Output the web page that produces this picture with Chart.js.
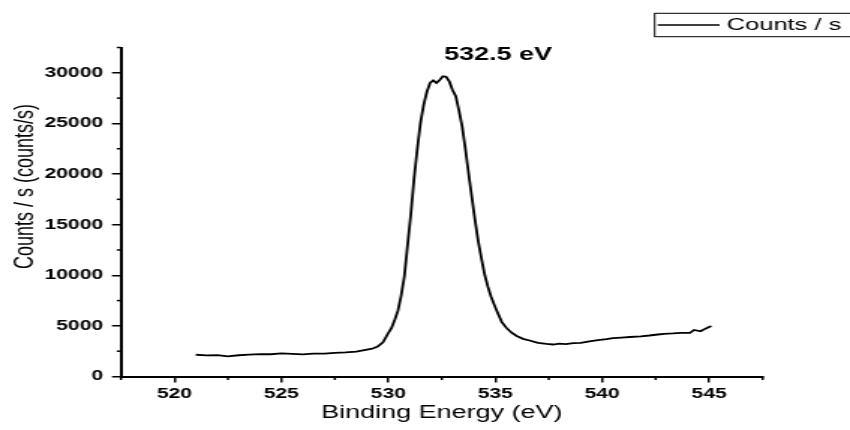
<!DOCTYPE html>
<html>
<head>
<meta charset="utf-8">
<script src="https://cdn.jsdelivr.net/npm/chart.js@4.4.1/dist/chart.umd.min.js"></script>
<style>
  html, body { margin: 0; padding: 0; background: #fff; overflow: hidden; }
  /* the reference looks stretched sideways, so draw narrow and scale it */
  #wrap { width: 567px; height: 430px; transform: scaleX(1.4991); transform-origin: 0 0; }
</style>
</head>
<body>
<div id="wrap"><canvas id="myChart" width="567" height="430"></canvas></div>
<script>
var energy = [521.0, 521.5, 522.0, 522.5, 523.0, 523.5, 524.0, 524.5, 525.0, 525.5, 526.0, 526.5, 527.0, 527.5, 528.0, 528.5,
  529.0, 529.25, 529.5, 529.75, 530.0, 530.15, 530.3, 530.45, 530.6, 530.75, 530.9, 531.05, 531.2, 531.35, 531.5, 531.65,
  531.8, 531.95, 532.1, 532.25, 532.4, 532.55, 532.7, 532.85, 533.0, 533.15, 533.3, 533.45, 533.6, 533.75, 533.9, 534.05,
  534.2, 534.35, 534.5, 534.65, 534.8, 534.95, 535.1, 535.3, 535.5, 535.75, 536.0, 536.3, 536.6, 537.0, 537.4, 537.7,
  538.0, 538.3, 538.65, 539.0, 539.4, 539.8, 540.2, 540.5, 540.9, 541.3, 541.8, 542.2, 542.6, 542.9, 543.3, 543.7,
  544.1, 544.3, 544.6, 544.85, 545.1];
var counts = [2150, 2080, 2120, 1980, 2100, 2170, 2220, 2200, 2280, 2230, 2180, 2260, 2250, 2330, 2380, 2450,
  2650, 2750, 2950, 3380, 4300, 4800, 5600, 6500, 8000, 9900, 13000, 16000, 19500, 22400, 25000, 26800,
  28100, 29000, 29250, 29000, 29300, 29650, 29600, 29150, 28300, 27700, 26300, 24700, 22500, 20100, 17800, 15500,
  13400, 11700, 10100, 8900, 7900, 7100, 6350, 5400, 4850, 4350, 4000, 3720, 3560, 3320, 3220, 3160,
  3250, 3200, 3300, 3320, 3480, 3600, 3700, 3800, 3850, 3900, 3970, 4050, 4150, 4220, 4250, 4300,
  4320, 4600, 4470, 4750, 4980];
var xTicks = [520, 525, 530, 535, 540, 545];
var yTicks = [0, 5000, 10000, 15000, 20000, 25000, 30000];
var seriesName = 'Counts / s';
var peakLabel = '532.5 eV';
var xTitle = 'Binding Energy (eV)';
var yTitle = 'Counts / s (counts/s)';

var fontFamily = '"Liberation Sans", Arial, sans-serif';

// minor ticks, y title, peak label and the legend box
var extras = {
  id: 'extras',
  afterDraw: function (chart) {
    var ctx = chart.ctx;
    var xs = chart.scales.x;
    var ys = chart.scales.y;
    var area = chart.chartArea;
    ctx.save();
    ctx.strokeStyle = '#000';
    ctx.lineWidth = 1.5;
    var xStep = (xTicks[1] - xTicks[0]) / 2;
    for (var v = xs.min; v <= xs.max + 1e-9; v += xStep) {
      if (xTicks.indexOf(v) >= 0) continue;
      var px = xs.getPixelForValue(v);
      ctx.beginPath(); ctx.moveTo(px, area.bottom); ctx.lineTo(px, area.bottom + 3.5); ctx.stroke();
    }
    var yStep = (yTicks[1] - yTicks[0]) / 2;
    for (var w = ys.min; w <= ys.max + 1e-9; w += yStep) {
      if (yTicks.indexOf(w) >= 0) continue;
      var py = ys.getPixelForValue(w);
      ctx.beginPath(); ctx.moveTo(area.left, py); ctx.lineTo(area.left - 2.8, py); ctx.stroke();
    }

    ctx.fillStyle = '#000';
    ctx.textBaseline = 'middle';

    ctx.save();
    ctx.translate(16.7, 186.5);
    ctx.rotate(-Math.PI / 2);
    ctx.textAlign = 'center';
    ctx.font = '18px ' + fontFamily;
    ctx.fillText(yTitle, 0, 0);
    ctx.restore();

    ctx.textAlign = 'center';
    ctx.font = 'bold 18px ' + fontFamily;
    ctx.fillText(peakLabel, 332.3, 55.5);

    ctx.lineWidth = 1;
    ctx.strokeRect(436.7, 13.3, 140, 23.4);
    ctx.lineWidth = 1.5;
    ctx.beginPath(); ctx.moveTo(438.7, 25); ctx.lineTo(480, 25); ctx.stroke();
    ctx.textAlign = 'left';
    ctx.font = '17px ' + fontFamily;
    ctx.fillText(seriesName, 484.7, 25);
    ctx.restore();
  }
};

var points = energy.map(function (e, i) { return { x: e, y: counts[i] }; });
var plain = function (value) { return String(value); };

var ctx = document.getElementById('myChart').getContext('2d');
var myChart = new Chart(ctx, {
  type: 'line',
  data: {
    datasets: [{
      label: seriesName,
      data: points,
      borderColor: '#000',
      borderWidth: 1.8,
      pointRadius: 0,
      tension: 0,
      fill: false
    }]
  },
  options: {
    responsive: false,
    animation: false,
    layout: { padding: { top: 47.5, right: 58.3, bottom: 0, left: 0 } },
    plugins: {
      legend: { display: false },
      tooltip: { enabled: false }
    },
    scales: {
      x: {
        type: 'linear',
        min: 517.5,
        max: 547.5,
        afterBuildTicks: function (s) { s.ticks = xTicks.map(function (v) { return { value: v }; }); },
        afterFit: function (s) { s.height = 53.5; },
        border: { color: '#000', width: 2 },
        grid: { drawOnChartArea: false, drawTicks: true, tickLength: 6, color: '#000', lineWidth: 1.5 },
        ticks: { color: '#000', padding: 3, maxRotation: 0, autoSkip: false, callback: plain,
          font: { family: fontFamily, size: 14, weight: 'bold' } },
        title: { display: true, text: xTitle, color: '#000', padding: { top: 0, bottom: 6 },
          font: { family: fontFamily, size: 18 } }
      },
      y: {
        min: 0,
        max: 32500,
        afterBuildTicks: function (s) { s.ticks = yTicks.map(function (v) { return { value: v }; }); },
        afterFit: function (s) { s.width = 80.7; },
        border: { color: '#000', width: 2 },
        grid: { drawOnChartArea: false, drawTicks: true, tickLength: 6, color: '#000', lineWidth: 1.5 },
        ticks: { color: '#000', padding: 6, autoSkip: false, callback: plain,
          font: { family: fontFamily, size: 14, weight: 'bold' } }
      }
    }
  },
  plugins: [extras]
});
</script>
</body>
</html>
